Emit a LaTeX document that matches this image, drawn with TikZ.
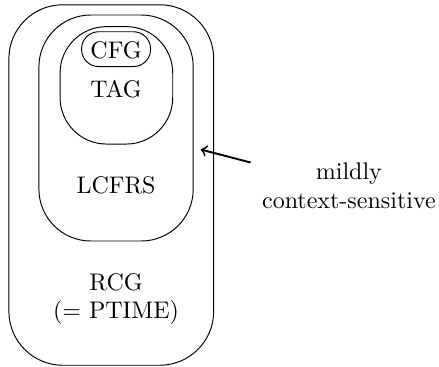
\documentclass[tikz,border=0pt]{standalone}
\usepackage{amsmath}
\usepackage{tikz}

\tikzset{
  classbox/.style={draw, rectangle, inner sep=0pt},
}

\begin{document}
\begin{tikzpicture}
    \useasboundingbox (0,0) rectangle (6.43,5.37);
    % nested classes
    \node[classbox, rounded corners=0.79cm, minimum width=3.0cm, minimum height=5.28cm] (rcg) at (1.63,2.66) {};
    \node[classbox, rounded corners=0.76cm, minimum width=2.26cm, minimum height=3.31cm] (lcfrs) at (1.70,3.495) {};
    \node[classbox, rounded corners=0.68cm, minimum width=1.65cm, minimum height=1.72cm] (tag) at (1.705,4.12) {};
    \node[classbox, rounded corners=0.25cm, minimum width=1.01cm, minimum height=0.51cm] (cfg) at (1.70,4.65) {};
    % labels
    \node (cfglabel) at (1.70,4.64) {CFG};
    \node (taglabel) at (1.70,4.07) {TAG};
    \node (lcfrslabel) at (1.70,2.65) {LCFRS};
    \node[align=center] (rcglabel) at (1.70,0.99) {RCG\\(= PTIME)};
    \node[align=center] (mcs) at (5.11,2.65) {mildly\\context-sensitive};
    \coordinate (tail) at (3.67,2.99);
    \coordinate (head) at (2.94,3.18);
    \draw[->, thick] (tail) -- (head);
\end{tikzpicture}
\end{document}
